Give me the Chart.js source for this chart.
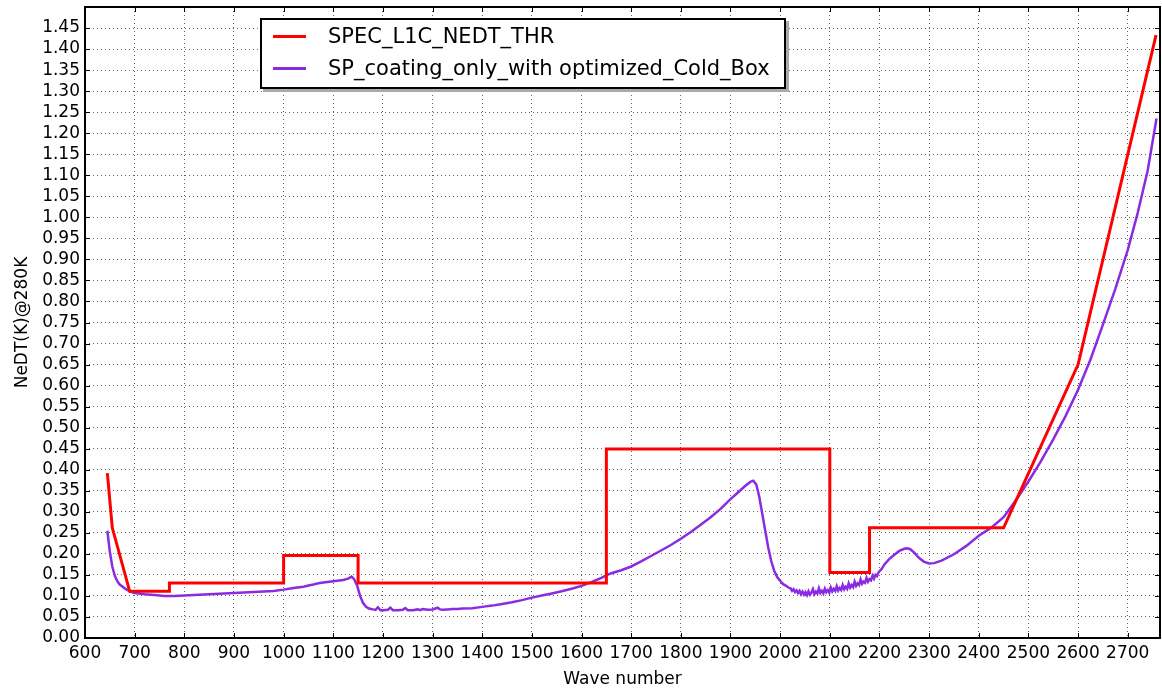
<!DOCTYPE html>
<html>
<head>
<meta charset="utf-8">
<script src="https://cdn.jsdelivr.net/npm/chart.js@4.4.1/dist/chart.umd.min.js"></script>
<style>
  html, body { margin: 0; padding: 0; background: #fff; }
  #wrap { position: relative; width: 1162px; height: 688px; }
  #legend {
    position: absolute; left: 260px; top: 18px; width: 522px; height: 67px;
    border: 2px solid #000; background: #fff; box-shadow: 3px 3px 0 #aaa;
    font-family: "DejaVu Sans", sans-serif; font-size: 21px; color: #000;
  }
  #legend .row { position: absolute; left: 0; height: 32px; line-height: 32px; white-space: nowrap; }
  #legend .swatch { position: absolute; left: 11px; width: 33px; height: 3px; }
  #legend .txt { position: absolute; left: 66px; }
</style>
</head>
<body>
<div id="wrap">
  <canvas id="chart" width="1162" height="688"></canvas>
  <div id="legend"></div>
</div>
<script>
// ─── DATA ──────────────────────────────────────────────────
const seriesNames = ['SPEC_L1C_NEDT_THR', 'SP_coating_only_with optimized_Cold_Box'];

// threshold (step curve)
const thrX = [645, 655, 690, 770, 770, 1000, 1000, 1150, 1150, 1650, 1650, 2100, 2100, 2180, 2180, 2450, 2600, 2757];
const thrY = [0.392, 0.262, 0.111, 0.111, 0.131, 0.131, 0.196, 0.196, 0.131, 0.131, 0.449, 0.449, 0.156, 0.156, 0.262, 0.262, 0.650, 1.433];

// measured NeDT
const spX = [
  645, 650, 655, 660, 665, 670, 680, 690, 700, 720, 740, 760, 780, 800, 850, 900, 950, 980,
  1000, 1020, 1040, 1050, 1060, 1070, 1080, 1100, 1120, 1130, 1137, 1142, 1148, 1154, 1160, 1166, 1172, 1180,
  1185, 1190, 1195, 1200, 1210, 1215, 1220, 1230, 1240, 1245, 1250, 1260, 1270, 1275, 1280, 1290,
  1300, 1310, 1315, 1320, 1330, 1340, 1350, 1360, 1380, 1400, 1420, 1440, 1460, 1480,
  1500, 1520, 1540, 1560, 1580, 1600, 1620, 1640, 1650, 1660, 1680, 1700, 1720, 1740, 1760, 1780,
  1800, 1820, 1840, 1860, 1880, 1900, 1915, 1930, 1940, 1946, 1952, 1958, 1964, 1970, 1976, 1982, 1988, 1994,
  2000, 2006, 2012, 2018,
  2021, 2024, 2027, 2030, 2033, 2036, 2039, 2042, 2045, 2048, 2051, 2054, 2057, 2060, 2063, 2066, 2069, 2072,
  2075, 2078, 2081, 2084, 2087, 2090, 2093, 2096, 2099, 2102, 2105, 2108, 2111, 2114, 2117, 2120, 2123, 2126,
  2129, 2132, 2135, 2138, 2141, 2144, 2147, 2150, 2153, 2156, 2159, 2162, 2165, 2168, 2171, 2174, 2177, 2180,
  2183, 2186, 2189, 2192, 2195, 2198,
  2205, 2210, 2220, 2230, 2240,
  2250, 2256, 2262, 2270, 2280, 2290, 2300, 2310, 2325, 2350, 2375, 2400, 2425, 2450, 2475, 2500, 2525, 2550,
  2575, 2600, 2625, 2650, 2675, 2700, 2720, 2740, 2758
];
const spY = [
  0.255, 0.205, 0.170, 0.148, 0.135, 0.127, 0.118, 0.111, 0.107, 0.104, 0.102, 0.100, 0.100, 0.101, 0.104, 0.107, 0.110, 0.112,
  0.115, 0.119, 0.122, 0.125, 0.127, 0.130, 0.132, 0.135, 0.138, 0.141, 0.146, 0.140, 0.125, 0.100, 0.083, 0.074, 0.070, 0.068,
  0.067, 0.073, 0.066, 0.066, 0.067, 0.072, 0.066, 0.066, 0.067, 0.071, 0.066, 0.066, 0.068, 0.066, 0.069, 0.067,
  0.068, 0.072, 0.068, 0.067, 0.068, 0.069, 0.069, 0.070, 0.071, 0.074, 0.077, 0.081, 0.085, 0.090,
  0.096, 0.101, 0.106, 0.111, 0.117, 0.124, 0.133, 0.143, 0.149, 0.154, 0.161, 0.170, 0.182, 0.195, 0.208, 0.221,
  0.236, 0.252, 0.269, 0.287, 0.307, 0.330, 0.346, 0.362, 0.371, 0.374, 0.365, 0.335, 0.295, 0.255, 0.215, 0.183, 0.160, 0.145,
  0.136, 0.128, 0.124, 0.119,
  0.118, 0.112, 0.116, 0.109, 0.113, 0.107, 0.112, 0.104, 0.110, 0.103, 0.109, 0.102, 0.111, 0.103, 0.108, 0.116, 0.104, 0.110,
  0.106, 0.118, 0.107, 0.112, 0.106, 0.117, 0.109, 0.114, 0.108, 0.120, 0.111, 0.117, 0.112, 0.123, 0.113, 0.119, 0.114, 0.126,
  0.116, 0.122, 0.117, 0.130, 0.120, 0.126, 0.121, 0.134, 0.124, 0.130, 0.126, 0.139, 0.129, 0.134, 0.131, 0.143, 0.134, 0.140,
  0.137, 0.148, 0.141, 0.150, 0.147, 0.156,
  0.165, 0.175, 0.188, 0.198, 0.207,
  0.212, 0.213, 0.211, 0.203, 0.190, 0.181, 0.177, 0.178, 0.184, 0.199, 0.219, 0.243, 0.262, 0.287, 0.328, 0.372, 0.420, 0.472,
  0.528, 0.590, 0.662, 0.745, 0.830, 0.922, 1.010, 1.110, 1.235
];

// axis ticks
const xTicks = [600, 700, 800, 900, 1000, 1100, 1200, 1300, 1400, 1500, 1600, 1700, 1800, 1900, 2000, 2100, 2200, 2300, 2400, 2500, 2600, 2700];
const yTicks = [0, 0.05, 0.10, 0.15, 0.20, 0.25, 0.30, 0.35, 0.40, 0.45, 0.50, 0.55, 0.60, 0.65, 0.70, 0.75,
  0.80, 0.85, 0.90, 0.95, 1.00, 1.05, 1.10, 1.15, 1.20, 1.25, 1.30, 1.35, 1.40, 1.45];

const COLORS = ['#ff0000', '#8a2be2'];
const FONT = '"DejaVu Sans", sans-serif';

// ─── FRAME + INWARD TICKS ──────────────────────────────────
const framePlugin = {
  id: 'frame',
  afterDraw(chart) {
    const { ctx, chartArea: a, scales } = chart;
    ctx.save();
    ctx.strokeStyle = '#000';
    ctx.lineWidth = 1;
    ctx.beginPath();
    scales.x.ticks.forEach(t => {
      const px = Math.round(scales.x.getPixelForValue(t.value)) + 0.5;
      ctx.moveTo(px, a.bottom); ctx.lineTo(px, a.bottom - 5);
      ctx.moveTo(px, a.top); ctx.lineTo(px, a.top + 5);
    });
    scales.y.ticks.forEach(t => {
      const py = Math.round(scales.y.getPixelForValue(t.value)) + 0.5;
      ctx.moveTo(a.left, py); ctx.lineTo(a.left + 5, py);
      ctx.moveTo(a.right, py); ctx.lineTo(a.right - 5, py);
    });
    ctx.stroke();
    ctx.lineWidth = 2;
    ctx.strokeRect(a.left, a.top, a.right - a.left, a.bottom - a.top);
    ctx.restore();
  }
};

function noEdgePadding(s) {
  s.paddingTop = 0; s.paddingBottom = 0; s.paddingLeft = 0; s.paddingRight = 0;
}

// ─── CHART ─────────────────────────────────────────────────
const thrData = thrX.map((x, i) => ({ x, y: thrY[i] }));
const spData = spX.map((x, i) => ({ x, y: spY[i] }));

const chart = new Chart(document.getElementById('chart').getContext('2d'), {
  type: 'line',
  data: {
    datasets: [
      { label: seriesNames[0], data: thrData, borderColor: COLORS[0], borderWidth: 3, pointRadius: 0, tension: 0 },
      { label: seriesNames[1], data: spData, borderColor: COLORS[1], borderWidth: 2.5, pointRadius: 0, tension: 0 }
    ]
  },
  options: {
    responsive: false,
    animation: false,
    devicePixelRatio: 1,
    layout: { padding: { top: 7, right: 2, left: 0, bottom: 0 } },
    plugins: { legend: { display: false }, tooltip: { enabled: false } },
    scales: {
      x: {
        type: 'linear', min: 600, max: 2765,
        afterBuildTicks: s => { s.ticks = xTicks.map(v => ({ value: v })); },
        afterFit: s => { s.height = 50; noEdgePadding(s); },
        ticks: { color: '#000', font: { family: FONT, size: 17 }, padding: 5, autoSkip: false, maxRotation: 0,
          callback: v => String(v) },
        grid: { color: 'rgba(0,0,0,0.6)', lineWidth: 1, drawTicks: false },
        border: { display: false, dash: [1, 3] },
        title: { display: true, text: 'Wave number', color: '#000', font: { family: FONT, size: 17, lineHeight: 1 },
          padding: { top: 0, bottom: 0 } }
      },
      y: {
        type: 'linear', min: 0, max: 1.5,
        afterBuildTicks: s => { s.ticks = yTicks.map(v => ({ value: v })); },
        afterFit: s => { s.width = 85; noEdgePadding(s); },
        ticks: { color: '#000', font: { family: FONT, size: 17 }, padding: 5, autoSkip: false,
          callback: v => v.toFixed(2) },
        grid: { color: 'rgba(0,0,0,0.6)', lineWidth: 1, drawTicks: false },
        border: { display: false, dash: [1, 3] },
        title: { display: true, text: 'NeDT(K)@280K', color: '#000', font: { family: FONT, size: 17, lineHeight: 1 },
          padding: { top: 14, bottom: 0 } }
      }
    }
  },
  plugins: [framePlugin]
});

// ─── LEGEND (inside plot) ──────────────────────────────────
const legend = document.getElementById('legend');
chart.data.datasets.forEach((ds, i) => {
  const row = document.createElement('div');
  row.className = 'row';
  row.style.top = (i * 32 + 0) + 'px';
  row.innerHTML = `<span class="swatch" style="top:15px;background:${ds.borderColor}"></span><span class="txt">${ds.label}</span>`;
  legend.appendChild(row);
});
</script>
</body>
</html>
